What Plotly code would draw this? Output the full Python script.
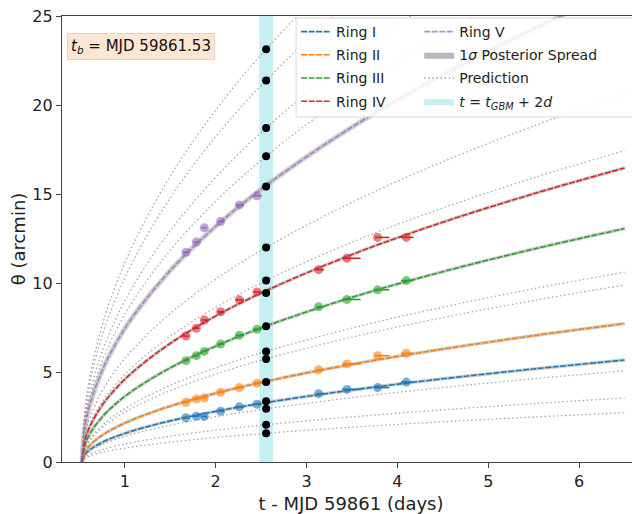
import plotly.graph_objects as go

# ---------------- data ----------------
T_GBM = 0.5557          # GBM trigger, days after MJD 59861
BAND_OFFSET = 2.0       # t = t_GBM + 2d
BAND_HALF = 0.075

# time grid on which the model curves were read
CURVE_T = [0.53, 0.56, 0.62, 0.75, 0.9, 1.1, 1.5, 2.0, 2.555, 3.5, 4.5, 5.5, 6.5]

# fitted ring curves (theta in arcmin)
fit_ring_I   = [0, 0.405, 0.702, 1.098, 1.424, 1.767, 2.305, 2.837, 3.33, 4.033, 4.663, 5.217, 5.718]
fit_ring_II  = [0, 0.550, 0.953, 1.490, 1.932, 2.398, 3.128, 3.851, 4.52, 5.474, 6.329, 7.081, 7.761]
fit_ring_III = [0, 0.927, 1.606, 2.512, 3.258, 4.043, 5.274, 6.492, 7.62, 9.229, 10.670, 11.937, 13.084]
fit_ring_IV  = [0, 1.168, 2.024, 3.164, 4.104, 5.094, 6.644, 8.179, 9.60, 11.627, 13.442, 15.039, 16.483]
fit_ring_V   = [0, 1.886, 3.267, 5.109, 6.626, 8.224, 10.728, 13.206, 15.5, 18.772, 21.703, 24.282, 26.614]

# prediction curves (dotted)
pred_1  = [0, 2.816, 4.878, 7.627, 9.892, 12.278, 16.015, 19.715, 23.14, 28.025, 32.40, 36.25, 39.73]
pred_2  = [0, 2.603, 4.509, 7.050, 9.144, 11.350, 14.804, 18.224, 21.39, 25.905, 29.95, 33.51, 36.73]
pred_3  = [0, 2.278, 3.946, 6.170, 8.003, 9.933, 12.956, 15.949, 18.72, 22.672, 26.212, 29.327, 32.142]
pred_4  = [0, 2.086, 3.613, 5.649, 7.327, 9.095, 11.863, 14.603, 17.14, 20.758, 24.0, 26.852, 29.43]
pred_5  = [0, 1.463, 2.534, 3.962, 5.139, 6.378, 8.319, 10.241, 12.02, 14.557, 16.830, 18.831, 20.638]
pred_6  = [0, 1.238, 2.144, 3.352, 4.348, 5.396, 7.039, 8.665, 10.17, 12.317, 14.240, 15.932, 17.462]
pred_7  = [0, 0.755, 1.307, 2.044, 2.651, 3.290, 4.291, 5.282, 6.20, 7.509, 8.681, 9.713, 10.645]
pred_8  = [0, 0.703, 1.218, 1.905, 2.471, 3.067, 4.000, 4.925, 5.78, 7.0, 8.093, 9.055, 9.924]
pred_9  = [0, 0.363, 0.628, 0.982, 1.274, 1.581, 2.062, 2.539, 2.98, 3.609, 4.173, 4.668, 5.117]
pred_10 = [0, 0.254, 0.441, 0.689, 0.893, 1.109, 1.446, 1.781, 2.09, 2.531, 2.926, 3.274, 3.589]
pred_11 = [0, 0.196, 0.339, 0.531, 0.688, 0.854, 1.114, 1.372, 1.61, 1.950, 2.254, 2.522, 2.764]

# predicted ring radii at t = t_GBM + 2d (black dots)
PRED_DOTS = [23.14, 21.39, 18.72, 17.14, 15.44, 12.02, 10.17, 9.48, 7.61,
             6.20, 5.78, 4.48, 3.41, 2.98, 2.09, 1.61]

# observations
OBS_T = [1.674, 1.788, 1.876, 2.055, 2.261, 2.455, 3.133, 3.445, 3.782, 4.098]
OBS_XERR_MINUS = [0.03, 0.03, 0.03, 0.03, 0.04, 0.04, 0.02, 0.05, 0.03, 0.06]
OBS_XERR_PLUS  = [0.03, 0.03, 0.03, 0.04, 0.05, 0.05, 0.06, 0.15, 0.13, 0.08]
obs_ring_I   = [2.48, 2.57, 2.55, 2.85, 3.09, 3.24, 3.83, 4.07, 4.17, 4.48]
obs_ring_II  = [3.35, 3.53, 3.59, 3.91, 4.17, 4.42, 5.17, 5.50, 5.96, 6.09]
obs_ring_III = [5.68, 5.96, 6.20, 6.61, 7.11, 7.44, 8.70, 9.11, 9.65, 10.17]
obs_ring_IV  = [7.06, 7.50, 7.96, 8.42, 9.09, 9.53, 10.78, 11.42, 12.59, 12.59]
obs_ring_V   = [11.76, 12.33, 13.13, 13.48, 14.41, 14.92]

RING_NAMES = ["Ring I", "Ring II", "Ring III", "Ring IV", "Ring V"]
RING_COLORS = ["#1f77b4", "#ff7f0e", "#2ca02c", "#d62728", "#9467bd"]
RING_FITS = [fit_ring_I, fit_ring_II, fit_ring_III, fit_ring_IV, fit_ring_V]
RING_OBS = [obs_ring_I, obs_ring_II, obs_ring_III, obs_ring_IV, obs_ring_V]
PREDS = [pred_1, pred_2, pred_3, pred_4, pred_5, pred_6, pred_7, pred_8, pred_9, pred_10, pred_11]

# ---------------- figure ----------------
FONT = "DejaVu Sans"
fig = go.Figure()

# prediction curves
for i, p in enumerate(PREDS):
    fig.add_trace(go.Scatter(
        x=CURVE_T, y=p, mode="lines", line_shape="spline",
        line=dict(color="rgba(120,120,120,0.65)", width=1.3, dash="1.5px,2.6px"),
        name="Prediction", showlegend=(i == 0), legend="legend2",
        legendgroup="pred", legendrank=3, hoverinfo="skip"))

# 1 sigma spread (grey under-band)
for k in range(5):
    fig.add_trace(go.Scatter(
        x=CURVE_T, y=RING_FITS[k], mode="lines", line_shape="spline",
        line=dict(color="rgba(150,150,150,0.45)", width=5 if k == 4 else 3.5),
        showlegend=False, hoverinfo="skip"))

# fitted curves
for k in range(5):
    fig.add_trace(go.Scatter(
        x=CURVE_T, y=RING_FITS[k], mode="lines", line_shape="spline",
        line=dict(color=RING_COLORS[k], width=1.6, dash="6px,1.5px"),
        opacity=0.75 if k == 4 else 1.0,
        name=RING_NAMES[k], legend="legend" if k < 4 else "legend2",
        legendgroup=RING_NAMES[k], legendrank=(k + 1) if k < 4 else 1))

# observations
for k in range(5):
    n = len(RING_OBS[k])
    fig.add_trace(go.Scatter(
        x=OBS_T[:n], y=RING_OBS[k], mode="markers",
        marker=dict(color=RING_COLORS[k], size=9, opacity=0.6),
        error_x=dict(type="data", symmetric=False,
                     array=OBS_XERR_PLUS[:n], arrayminus=OBS_XERR_MINUS[:n],
                     color=RING_COLORS[k], thickness=1.6, width=0),
        showlegend=False))

# predicted positions at t_GBM + 2d
fig.add_trace(go.Scatter(
    x=[T_GBM + BAND_OFFSET] * len(PRED_DOTS), y=PRED_DOTS, mode="markers",
    marker=dict(color="black", size=8), showlegend=False))

# legend-only entries
fig.add_trace(go.Scatter(
    x=[None], y=[None], mode="lines", fill="toself",
    fillcolor="rgba(128,128,128,0.55)", line=dict(width=0, color="rgba(0,0,0,0)"),
    name="1<i>σ</i> Posterior Spread", legend="legend2", legendgroup="spread", legendrank=2))
fig.add_trace(go.Scatter(
    x=[None], y=[None], mode="lines", fill="toself",
    fillcolor="rgba(23,190,207,0.25)", line=dict(width=0, color="rgba(0,0,0,0)"),
    name="<i>t</i> = <i>t</i><sub><i>GBM</i></sub> + 2<i>d</i>", legend="legend2",
    legendgroup="band", legendrank=4))

fig.add_vrect(x0=T_GBM + BAND_OFFSET - BAND_HALF, x1=T_GBM + BAND_OFFSET + BAND_HALF,
              fillcolor="rgba(23,190,207,0.25)", line_width=0, layer="below")

# legend frame
fig.add_shape(type="rect", xref="paper", yref="paper", x0=0.405, x1=0.993, y0=0.7735, y1=0.9955,
              fillcolor="rgba(255,255,255,0.85)", line=dict(color="#d8d8d8", width=1), layer="above")

fig.add_annotation(
    xref="paper", yref="paper", x=0.009, y=0.962, xanchor="left", yanchor="top",
    text="<i>t</i><sub><i>b</i></sub> = MJD 59861.53", showarrow=False,
    font=dict(family=FONT, size=15, color="#111"),
    bgcolor="#fae6d3", bordercolor="#e8d2bd", borderwidth=1, borderpad=3)

axis_common = dict(showgrid=False, zeroline=False, showline=True, linecolor="#444",
                   linewidth=1.3, ticks="outside", ticklen=5, tickwidth=1.3, automargin=False,
                   ticklabeloverflow="allow",
                   tickcolor="#444", tickfont=dict(family=FONT, size=16, color="#222"))

fig.update_xaxes(range=[0.31, 6.669], tickvals=[1, 2, 3, 4, 5, 6], mirror=True,
                 title=dict(text="t - MJD 59861 (days)", font=dict(family=FONT, size=18, color="#222")),
                 **axis_common)
fig.update_yaxes(range=[0, 25], tickvals=[0, 5, 10, 15, 20, 25],
                 title=dict(text="θ (arcmin)", font=dict(family=FONT, size=18, color="#222")),
                 **axis_common)

leg_common = dict(orientation="v", y=1.0, yanchor="top", xanchor="left",
                  bgcolor="rgba(0,0,0,0)", borderwidth=0, tracegroupgap=2,
                  font=dict(family=FONT, size=14, color="#222"), itemwidth=30)

# the page body adds an 8px offset, so the figure is sized/margined to compensate
fig.update_layout(
    width=632, height=506,
    margin=dict(l=54, r=0, t=8, b=52),
    plot_bgcolor="white", paper_bgcolor="white",
    font=dict(family=FONT, size=14, color="#222"),
    legend=dict(x=0.405, **leg_common),
    legend2=dict(x=0.618, **leg_common),
    showlegend=True,
)

fig.write_html("out.html")
